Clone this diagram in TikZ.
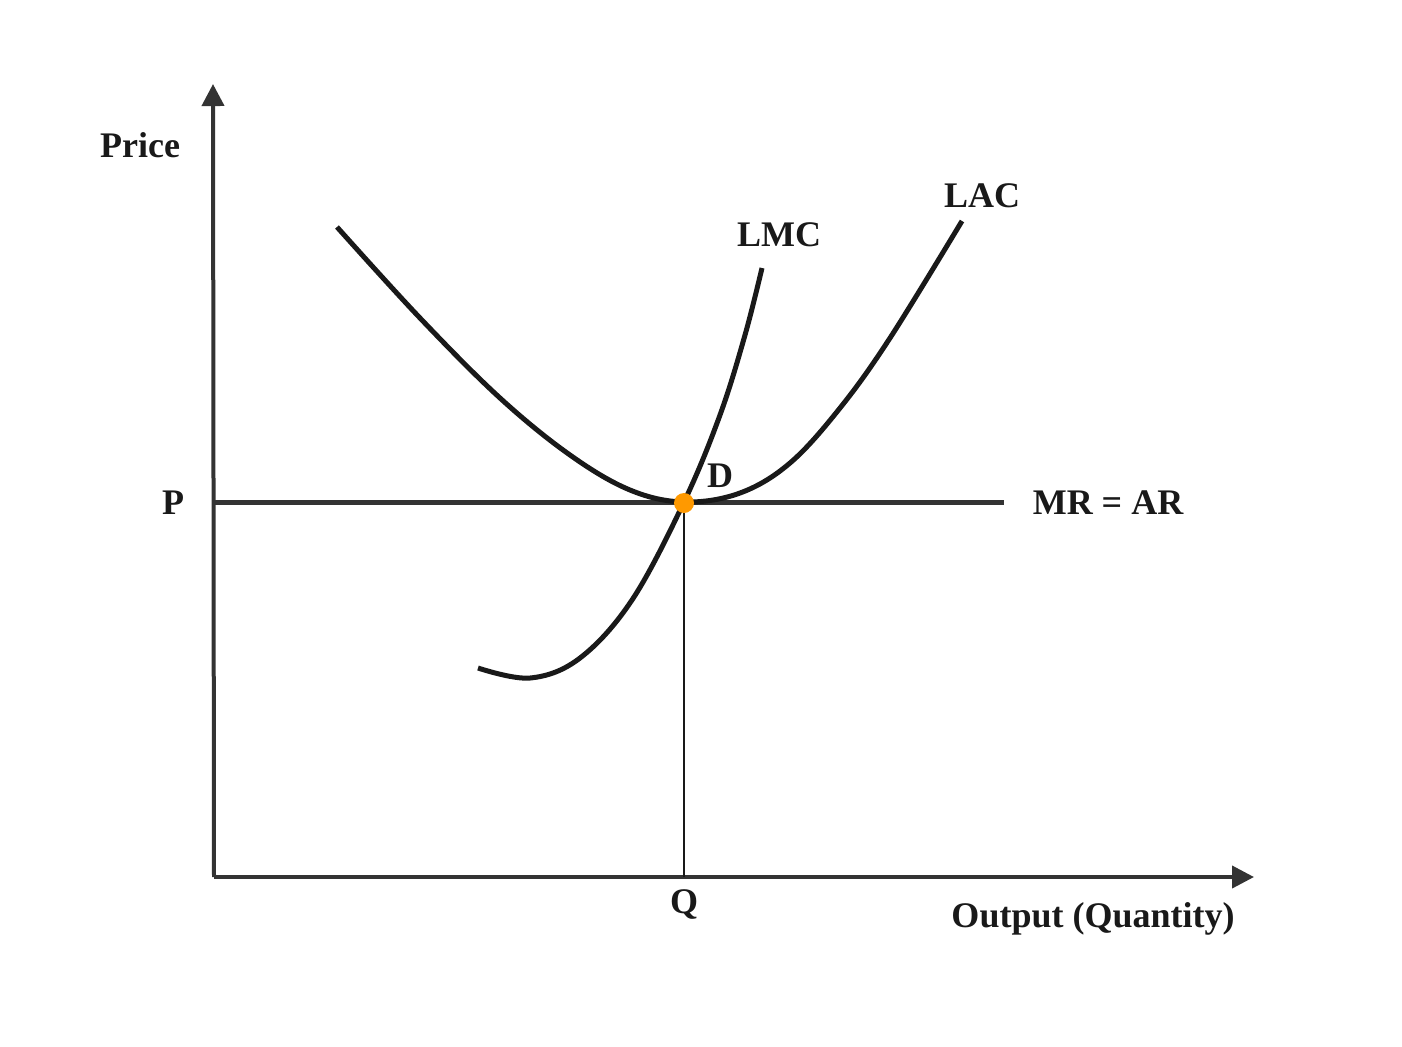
\documentclass[tikz,border=0pt]{standalone}
\usepackage{fontspec}
\setmainfont{Liberation Serif}
\usepackage{tikz}
\usetikzlibrary{arrows.meta}
\definecolor{axisgray}{HTML}{333333}
\definecolor{dotorange}{HTML}{FF9900}

\tikzset{
	axis/.style={draw=axisgray, line width=2pt, -{Triangle[width=11pt,length=11pt]}},
	curve/.style={draw=black!90, line width=2.5pt},
	lbl/.style={font=\fontsize{18}{20}\selectfont\bfseries, text=black!90, inner sep=0pt},
}

\begin{document}
\begin{tikzpicture}[x=0.5pt, y=-0.5pt]
	\useasboundingbox (0,0) rectangle (1402,1046);

	\coordinate (O) at (214,877);
	\coordinate (ytop) at (213,84);
	\coordinate (xend) at (1254,877);
	\coordinate (Pline) at (214,502);
	\coordinate (MRend) at (1004,502);
	\coordinate (D) at (684,503);
	\coordinate (Qfoot) at (684,877);

	% axes
	\draw[axis] (O) -- (ytop);
	\draw[axis] (O) -- (xend);

	% price line and output
	\draw[draw=axisgray, line width=2.5pt] (Pline) -- (MRend);
	\draw[draw=black!90, line width=0.75pt] (D) -- (Qfoot);

	% cost curves
	\draw[curve] plot[smooth, tension=0.6] coordinates {(337,227) (420,318) (500,398) (570,455) (630,490) (684,502) (740,493) (790,463) (840,408) (890,338) (962,221)};
	\draw[curve] plot[smooth, tension=0.6] coordinates {(478,668) (530,678) (580,658) (632,600) (684,502) (720,415) (745,335) (762,268)};

	\fill[dotorange] (D) circle (5pt);

	% labels
	\node[lbl] (price) at (140,145) {Price};
	\node[lbl] (lac) at (982,196) {LAC};
	\node[lbl] (lmc) at (779,235) {LMC};
	\node[lbl] (dlbl) at (720,476) {D};
	\node[lbl] (plbl) at (173,503) {P};
	\node[lbl] (mrar) at (1108,503) {MR = AR};
	\node[lbl] (qlbl) at (684,904) {Q};
	\node[lbl] (output) at (1093,919) {Output (Quantity)};
\end{tikzpicture}
\end{document}
